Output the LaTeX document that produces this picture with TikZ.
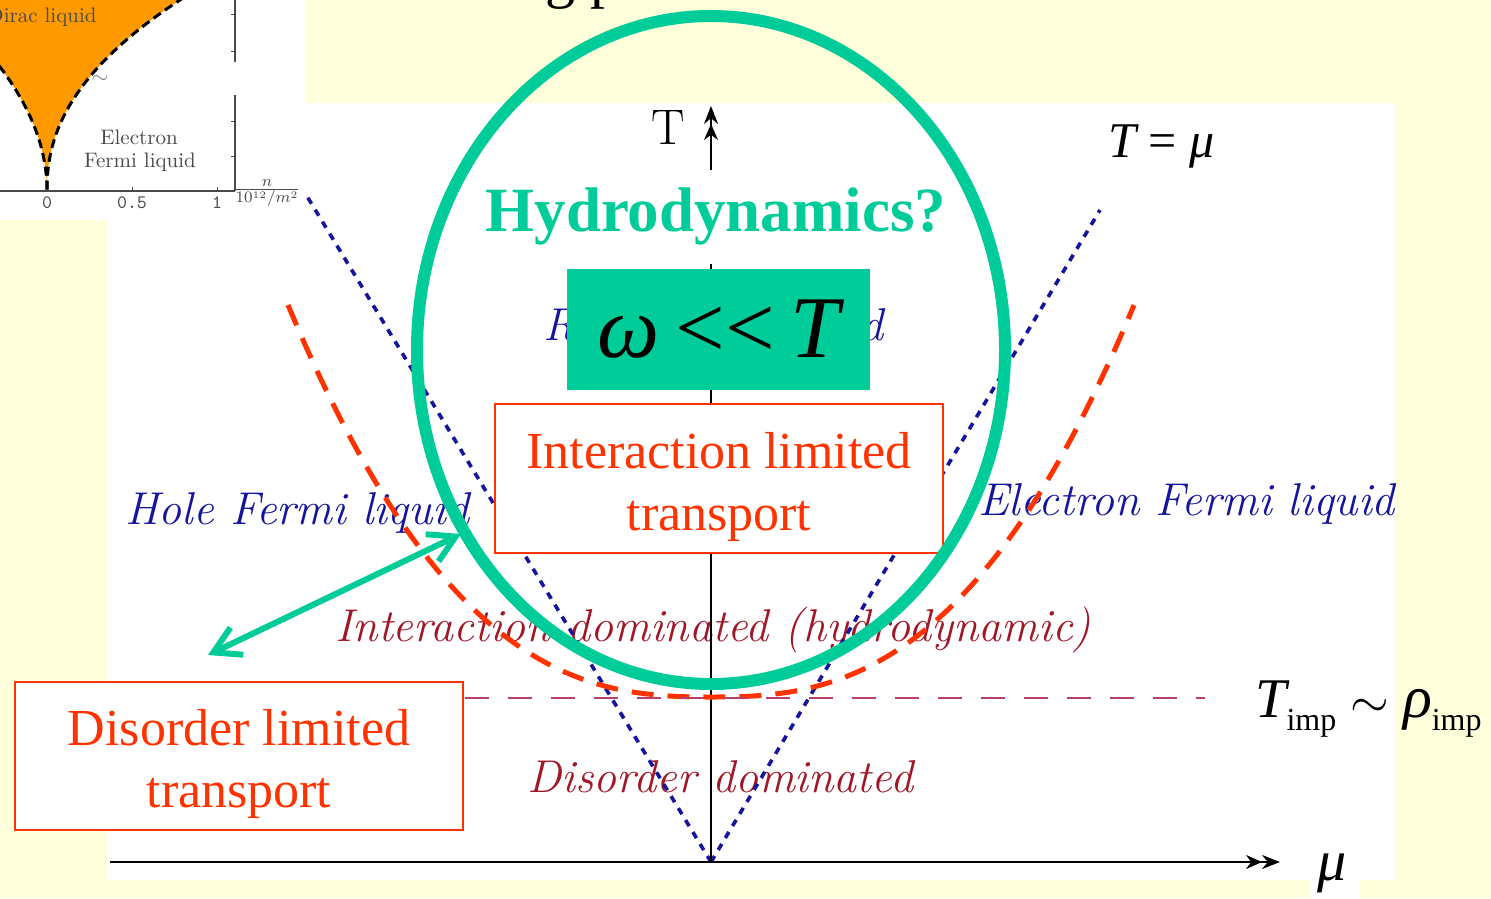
\documentclass[tikz,border=0pt]{standalone}
\usepackage{fontspec}
\newfontfamily\tnr{Liberation Serif}
\usetikzlibrary{arrows.meta}
\definecolor{bgyellow}{HTML}{FFFFDC}
\definecolor{hgreen}{HTML}{00CC99}
\definecolor{boxred}{HTML}{FF3300}
\definecolor{fermiblue}{HTML}{14149C}
\definecolor{domred}{HTML}{A01828}
\definecolor{imppink}{HTML}{B8406A}
\definecolor{insetorange}{HTML}{FF9900}
\definecolor{insetgray}{HTML}{4A4A4A}
\tikzset{
  bluedash/.style={draw=fermiblue, line width=1.8pt, dash pattern=on 3.5pt off 3.5pt},
  insetdash/.style={draw=black, line width=1.5pt, dash pattern=on 4.5pt off 2.5pt},
  axisline/.style={draw=black, line width=1pt, -{Stealth[length=8pt,width=7pt]Stealth[length=9pt,width=7pt]}},
  redbox/.style={draw=boxred, line width=1pt, fill=white, inner sep=0pt},
  redtext/.style={text=boxred, font={\tnr\fontsize{26}{31}\selectfont}, align=center, inner sep=0pt},
  plotlabel/.style={font={\fontsize{23}{27}\selectfont\itshape}, inner sep=0pt, anchor=base west},
  insettext/.style={text=insetgray, font={\fontsize{10.5}{12}\selectfont}, inner sep=0pt},
  ticklabel/.style={text=insetgray, font={\ttfamily\fontsize{9.5}{11}\selectfont}, inner sep=0pt},
  formula/.style={font={\tnr\fontsize{25}{30}\selectfont}, inner sep=0pt, anchor=base west},
}
\begin{document}
\begin{tikzpicture}[x=0.5pt,y=-0.5pt]
\useasboundingbox (0,0) rectangle (1491,898);
% background
\fill[bgyellow] (0,0) rectangle (1491,898);
\fill[white] (0,0) rectangle (305,220);
\fill[white] (305,103) rectangle (1395,880);
\fill[white] (107,220) rectangle (305,880);
\fill[white] (1310,880) rectangle (1360,898);
% cut title fragment
\node[anchor=base west, inner sep=0pt, font={\tnr\fontsize{30}{36}\selectfont}] (title) at (545,-3) {g p};
% ---------------- inset ----------------
\begin{scope}
\clip (0,0) rectangle (305,220);
\fill[insetorange] (0,0) -- (180,0)
  -- plot[domain=1:0.002,samples=50] ({47+133*pow(\x,2.19)},{190-190*\x})
  -- plot[domain=0.002:0.66,samples=40] ({47-111*pow(\x,1.98)},{190-190*\x})
  -- (0,0) -- cycle;
\draw[insetdash] plot[domain=0.002:1.02,samples=50] ({47+133*pow(\x,2.19)},{190-190*\x});
\draw[insetdash] plot[domain=0.002:0.75,samples=40] ({47-111*pow(\x,1.98)},{190-190*\x});
\end{scope}
\draw[insetgray, line width=0.6pt] (0,191) -- (235,191);
\draw[insetgray, line width=0.6pt] (235,0) -- (235,62);
\draw[insetgray, line width=0.6pt] (235,95) -- (235,191);
\foreach \ty in {15,52,122,157} {\draw[insetgray, line width=0.5pt] (235,\ty) -- (231,\ty);}
\foreach \tx in {132,217} {\draw[insetgray, line width=0.5pt] (\tx,191) -- (\tx,187);}
\node[insettext, anchor=east] (dirac) at (97,17) {Dirac liquid};
\node[insettext] (elec1) at (139,137) {Electron};
\node[insettext] (elec2) at (140,162) {Fermi liquid};
\node[insettext, text=gray] (tilde) at (100,79) {$\sim$};
\node[ticklabel] (t0) at (47,203) {0};
\node[ticklabel] (t05) at (132,203) {0.5};
\node[ticklabel] (t1) at (217,203) {1};
\node[text=insetgray, inner sep=0pt, font={\fontsize{11}{12}\selectfont}] (nlab) at (267,193) {$\frac{n}{10^{12}/m^2}$};
% ---------------- plot labels ----------------
\node[plotlabel, text=fermiblue] (hole) at (125,524) {Hole Fermi liquid};
\node[plotlabel, text=fermiblue] (elfl) at (978,515) {Electron Fermi liquid};
\node[plotlabel, text=domred] (intdom) at (335,641) {Interaction dominated (hydrodynamic)};
\node[plotlabel, text=domred] (disdom) at (527,792) {Disorder dominated};
\node[plotlabel, text=fermiblue] (rel) at (543,340) {Relativistic liquid};
% ---------------- plot lines ----------------
\coordinate (O) at (711,862);
\coordinate (Tend) at (711,106);
\coordinate (Mstart) at (110,862);
\coordinate (Mend) at (1280,862);
\coordinate (BL) at (305,193);
\coordinate (BR) at (1100,210);
\draw[bluedash] (O) -- (BL);
\draw[bluedash] (O) -- (BR);
\draw[axisline] (O) -- (Tend);
\draw[axisline] (Mstart) -- (Mend);
\draw[boxred, line width=2.5pt, dash pattern=on 11pt off 7pt]
  plot[domain=-423:423, samples=80, smooth] ({711+\x},{697-392*pow(abs(\x)/423,2.59)});
\coordinate (ImpL) at (465,698);
\coordinate (ImpR) at (1205,698);
\draw[imppink, line width=1pt, dash pattern=on 12pt off 9.5pt] (ImpL) -- (ImpR);
% axis labels and formulas
\node[inner sep=0pt, anchor=base, font={\fontsize{25}{30}\selectfont}] (Tlab) at (668,145) {T};
\node[formula] (Tmu) at (1108,158) {\itshape T \upshape= \itshape μ};
\node[formula, font={\tnr\fontsize{28}{32}\selectfont}] (Timp) at (1255,717)
  {\itshape T\upshape\raisebox{-6.5pt}{\fontsize{16}{18}\selectfont imp}\hspace{7pt}$\sim$\hspace{7pt}{\fontsize{30}{32}\selectfont\itshape ρ}\upshape\raisebox{-6.5pt}{\fontsize{16}{18}\selectfont imp}};
\node[formula, font={\tnr\fontsize{29}{32}\selectfont}] (mulab) at (1317,880) {\itshape μ};
% ---------------- boxes ----------------
\node[fill=hgreen, minimum width=151.5pt, minimum height=60.5pt, inner sep=0pt, font={\tnr\fontsize{44}{50}\selectfont}] (wbox) at (718.5,329.5)
  {\itshape ω\hspace{0.18em}\upshape<<\hspace{0.18em}\itshape T};
\node[redbox, minimum width=224pt, minimum height=74.5pt] (iltbox) at (719,478.5) {};
\node[redtext] (ilt) at (719,486.5) {Interaction limited\\transport};
\node[redbox, minimum width=224pt, minimum height=74pt] (dltbox) at (239,756) {};
\node[redtext] (dlt) at (239,764) {Disorder limited\\transport};
% ---------------- green overlay ----------------
\draw[hgreen, line width=6pt] (711,350) ellipse [x radius=147pt, y radius=167pt];
\node[fill=white, inner xsep=2pt, inner ysep=9pt, anchor=base, text=hgreen, font={\tnr\bfseries\fontsize{31.5}{36}\selectfont}] (hyd) at (716,232) {Hydrodynamics?};
\coordinate (ArrA) at (208,655);
\coordinate (ArrB) at (461,534);
\draw[hgreen, line width=3pt, line cap=round, line join=round, {Straight Barb[length=13pt,width=15pt]}-{Straight Barb[length=13pt,width=15pt]}] (ArrA) -- (ArrB);
\end{tikzpicture}
\end{document}
